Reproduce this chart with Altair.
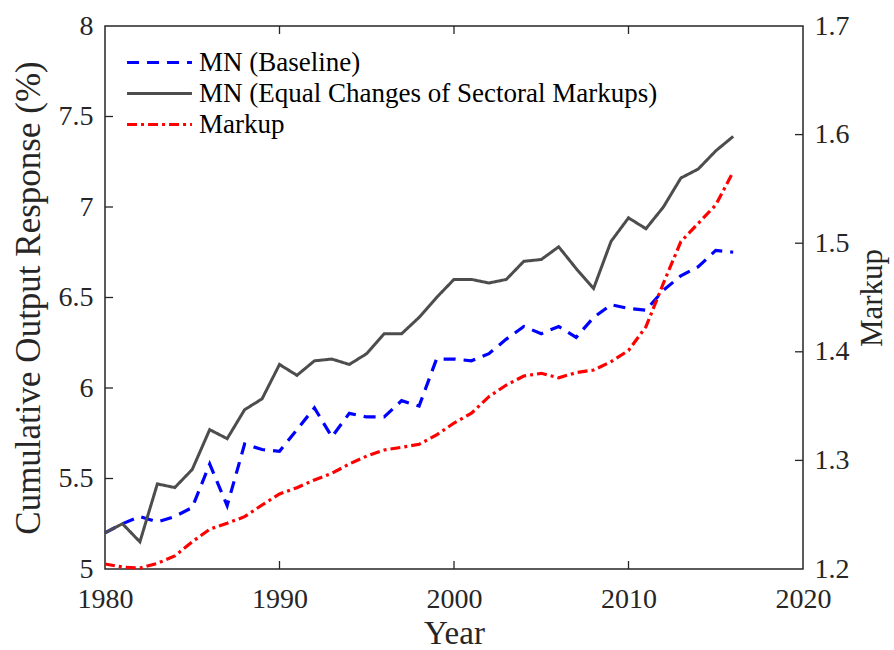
import altair as alt
import pandas as pd

# ---- data -------------------------------------------------------------
years = list(range(1980, 2017))

mn_baseline = [
    5.20, 5.25, 5.29, 5.26, 5.29, 5.34, 5.58, 5.35, 5.69, 5.66,
    5.65, 5.77, 5.89, 5.73, 5.86, 5.84, 5.84, 5.93, 5.90, 6.16,
    6.16, 6.15, 6.19, 6.27, 6.34, 6.30, 6.34, 6.28, 6.39, 6.46,
    6.44, 6.43, 6.54, 6.62, 6.67, 6.76, 6.75,
]

mn_equal = [
    5.20, 5.25, 5.15, 5.47, 5.45, 5.55, 5.77, 5.72, 5.88, 5.94,
    6.13, 6.07, 6.15, 6.16, 6.13, 6.19, 6.30, 6.30, 6.39, 6.50,
    6.60, 6.60, 6.58, 6.60, 6.70, 6.71, 6.78, 6.66, 6.55, 6.81,
    6.94, 6.88, 7.00, 7.16, 7.21, 7.31, 7.39,
]

markup = [
    1.2046, 1.2018, 1.2009, 1.2052, 1.2120, 1.2251, 1.2366, 1.2421, 1.2482, 1.2589,
    1.2691, 1.2749, 1.2820, 1.2881, 1.2967, 1.3040, 1.3096, 1.3121, 1.3148, 1.3234,
    1.3344, 1.3434, 1.3587, 1.3694, 1.3777, 1.3802, 1.3761, 1.3808, 1.3832, 1.3909,
    1.4012, 1.4231, 1.4631, 1.5014, 1.5183, 1.5352, 1.5658,
]

series_names = ["MN (Baseline)", "MN (Equal Changes of Sectoral Markups)", "Markup"]
series_colors = ["#0000ff", "#4d4d4d", "#ff0000"]
series_dashes = [[12, 8], [1, 0], [10, 4, 3, 4]]

x_ticks = [1980, 1990, 2000, 2010, 2020]
left_ticks = [5, 5.5, 6, 6.5, 7, 7.5, 8]
right_ticks = [1.2, 1.3, 1.4, 1.5, 1.6, 1.7]

# ---- layout -----------------------------------------------------------
W, H = 698, 543
TICK = 8
FONT = "Liberation Serif"
INK = "#262626"

df_base = pd.DataFrame({"Year": years, "value": mn_baseline, "series": series_names[0]})
df_equal = pd.DataFrame({"Year": years, "value": mn_equal, "series": series_names[1]})
df_markup = pd.DataFrame({"Year": years, "value": markup, "series": series_names[2]})

# legend key: a long horizontal stroke drawn with a custom path so that the
# row height stays governed by the label size
legend = alt.Legend(
    title=None, orient="none", legendX=41, legendY=23,
    symbolType="M-2.95,0H2.95", symbolSize=484, symbolStrokeWidth=3,
    labelFont=FONT, labelFontSize=27, labelColor="black",
    labelOffset=26, rowPadding=3, padding=0, labelLimit=0,
)
color = alt.Color("series:N", scale=alt.Scale(domain=series_names, range=series_colors), legend=legend)
dash = alt.StrokeDash("series:N", scale=alt.Scale(domain=series_names, range=series_dashes), legend=legend)

x_enc = alt.X(
    "Year:Q",
    scale=alt.Scale(domain=[1980, 2020], nice=False, zero=False),
    axis=alt.Axis(
        values=x_ticks, format="d", ticks=False, domain=False, grid=False,
        labelFlush=False, labelFont=FONT, labelFontSize=28, labelColor=INK,
        labelPadding=16, title="Year", titleFont=FONT, titleFontSize=33,
        titleFontWeight="normal", titleColor=INK, titlePadding=4,
    ),
)

y_left = alt.Y(
    "value:Q",
    scale=alt.Scale(domain=[5, 8], nice=False, zero=False),
    axis=alt.Axis(
        orient="left", values=left_ticks, format="~g", ticks=False, domain=False,
        grid=False, labelFlush=False, labelFont=FONT, labelFontSize=28,
        labelColor=INK, labelPadding=12, title="Cumulative Output Response (%)",
        titleFont=FONT, titleFontSize=35, titleFontWeight="normal",
        titleColor=INK, titlePadding=12,
    ),
)

y_right = alt.Y(
    "value:Q",
    scale=alt.Scale(domain=[1.2, 1.7], nice=False, zero=False),
    axis=alt.Axis(
        orient="right", values=right_ticks, format=".1f", ticks=False, domain=False,
        grid=False, labelFlush=False, labelFont=FONT, labelFontSize=28,
        labelColor=INK, labelPadding=11, title="Markup", titleAngle=270,
        titleBaseline="top", titleFont=FONT, titleFontSize=31,
        titleFontWeight="normal", titleColor=INK, titlePadding=8,
    ),
)


def series_line(df, y_enc, width):
    return alt.Chart(df).mark_line(strokeWidth=width, strokeCap="butt").encode(
        x=x_enc, y=y_enc, color=color, strokeDash=dash,
    )


# inward tick marks on the frame
xt = pd.DataFrame({"Year": x_ticks[1:-1]})
x_ticks_bottom = alt.Chart(xt).mark_rule(color=INK, strokeWidth=1.3).encode(
    x=x_enc, y=alt.value(H), y2=alt.value(H - TICK))
x_ticks_top = alt.Chart(xt).mark_rule(color=INK, strokeWidth=1.3).encode(
    x=x_enc, y=alt.value(0), y2=alt.value(TICK))

lt = pd.DataFrame({"value": left_ticks[1:-1]})
y_ticks_left = alt.Chart(lt).mark_rule(color=INK, strokeWidth=1.3).encode(
    y=y_left, x=alt.value(0), x2=alt.value(TICK))

rt = pd.DataFrame({"value": right_ticks[1:-1]})
y_ticks_right = alt.Chart(rt).mark_rule(color=INK, strokeWidth=1.3).encode(
    y=y_right, x=alt.value(W - TICK), x2=alt.value(W))

left_group = alt.layer(
    x_ticks_bottom, x_ticks_top, y_ticks_left,
    series_line(df_base, y_left, 3.2), series_line(df_equal, y_left, 3),
)
right_group = alt.layer(y_ticks_right, series_line(df_markup, y_right, 3.2))

chart = (
    alt.layer(left_group, right_group)
    .resolve_scale(y="independent")
    .properties(
        width=W, height=H,
        autosize=alt.AutoSizeParams(type="none"),
        padding={"left": 105, "top": 26, "right": 91, "bottom": 81},
        background="white",
    )
    .configure_view(stroke=INK, strokeWidth=1.5)
)

chart.save("out.html", embed_options={"renderer": "svg", "actions": False})
